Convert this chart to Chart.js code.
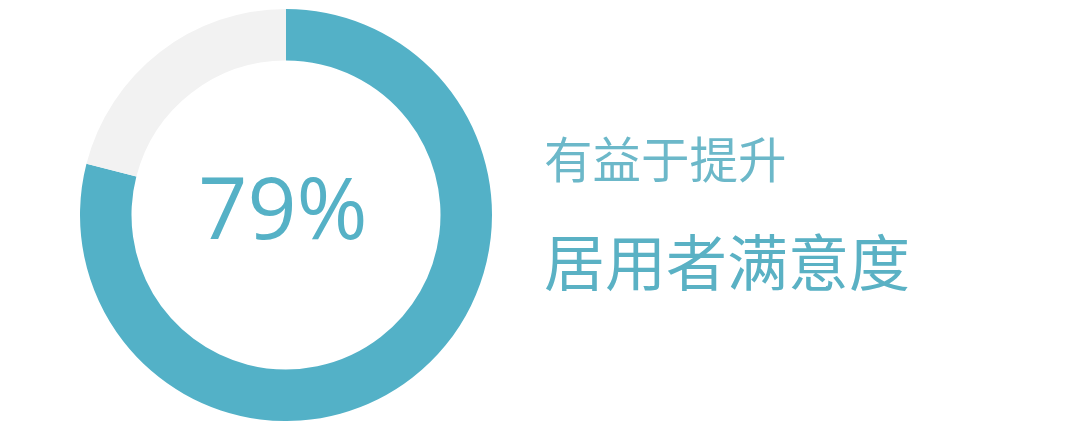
<!DOCTYPE html>
<html>
<head>
<meta charset="utf-8">
<script src="https://cdn.jsdelivr.net/npm/chart.js@4/dist/chart.umd.min.js"></script>
<style>
  html, body { margin: 0; padding: 0; background: #ffffff; }
  body { width: 1080px; height: 427px; position: relative; overflow: hidden; }
  #wrap { position: absolute; left: 80px; top: 9px; width: 412px; height: 412px; }
  #center { position: absolute; left: 80px; top: 163px; width: 406px; text-align: center;
            font-family: "Open Sans", "Lato", sans-serif; font-size: 86px; line-height: 1; color: #55b1c6; }
  .t1 { position: absolute; left: 544px; top: 133px; font-family: "Noto Sans CJK SC", sans-serif;
        font-size: 48.5px; line-height: 1; color: #6cb8c9; white-space: nowrap; }
  .t2 { position: absolute; left: 544px; top: 229px; font-family: "Noto Sans CJK SC", sans-serif;
        font-size: 61px; line-height: 1; color: #5ab1c4; white-space: nowrap; }
</style>
</head>
<body>
<div id="wrap"><canvas id="c"></canvas></div>
<div id="center"></div>
<div class="t1" id="t1"></div>
<div class="t2" id="t2"></div>
<script>
const categories = ["满意", "其他"];
const values = [79, 21];
const colors = ["#53b1c7", "#f2f2f2"];
const titleLine1 = "有益于提升";
const titleLine2 = "居用者满意度";

document.getElementById("center").textContent = values[0] + "%";
document.getElementById("t1").textContent = titleLine1;
document.getElementById("t2").textContent = titleLine2;

new Chart(document.getElementById("c"), {
  type: "doughnut",
  data: {
    labels: categories,
    datasets: [{ data: values, backgroundColor: colors, borderWidth: 0, hoverOffset: 0 }]
  },
  options: {
    responsive: true,
    maintainAspectRatio: false,
    animation: false,
    cutout: "75%",
    rotation: 0,
    layout: { padding: 0 },
    plugins: { legend: { display: false }, tooltip: { enabled: false } }
  }
});
</script>
</body>
</html>
